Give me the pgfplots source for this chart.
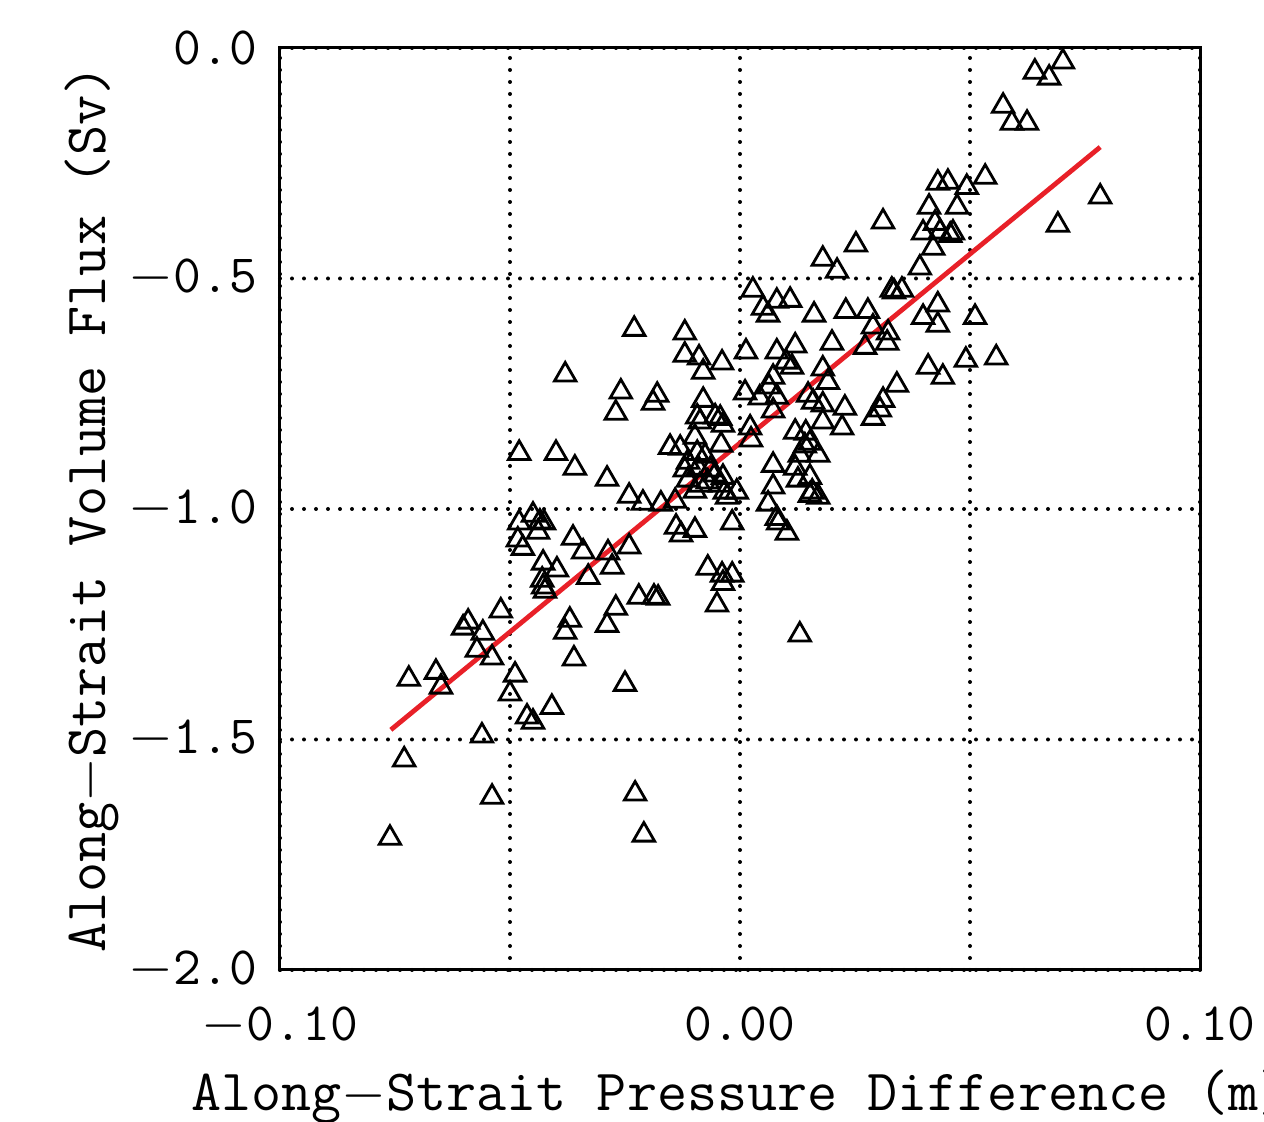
\documentclass[border=0pt]{standalone}
\usepackage{fontspec}
\usepackage{pgfplots}
\pgfplotsset{compat=1.18}
\definecolor{fitred}{RGB}{232,32,40}
\begin{document}
\begin{tikzpicture}
\begin{axis}[
  at={(0,0)}, anchor=south west,
  scale only axis, width=230pt, height=230.5pt,
  xmin=-0.1, xmax=0.1, ymin=-2, ymax=0,
  xtick={-0.1,-0.05,0,0.05,0.1},
  xticklabels={$-$0.10,,0.00,,0.10},
  ytick={-2,-1.5,-1,-0.5,0},
  yticklabels={$-$2.0,$-$1.5,$-$1.0,$-$0.5,0.0},
  major tick length=0pt,
  grid=major,
  major grid style={black, line width=1pt, line cap=round, dash pattern=on 0pt off 3pt},
  axis line style={line width=0.75pt},
  tick label style={font=\fontsize{13.5}{15}\ttfamily, inner sep=1pt},
  xticklabel style={yshift=-8pt},
  yticklabel style={xshift=-4.5pt},
  label style={font=\fontsize{14.6}{16}\ttfamily},
  xlabel={Along{$-$}Strait Pressure Difference (m)},
  ylabel={Along{$-$}Strait Volume Flux (Sv)},
  xlabel style={at={(axis description cs:0.5,-0.152)}, anchor=base},
  ylabel style={at={(axis description cs:-0.19,0.5)}, anchor=base},
]
\addplot[only marks, mark=triangle, mark size=3.1pt, mark options={black, line width=0.7pt}] coordinates {
(-0.0761,-1.714) (-0.0730,-1.544) (-0.0720,-1.369) (-0.0661,-1.354) (-0.0650,-1.386)
(-0.0602,-1.258) (-0.0591,-1.245) (-0.0559,-1.269) (-0.0572,-1.306) (-0.0539,-1.323)
(-0.0520,-1.221) (-0.0489,-1.360) (-0.0500,-1.401) (-0.0409,-1.430) (-0.0463,-1.451)
(-0.0450,-1.462) (-0.0561,-1.492) (-0.0539,-1.625) (-0.0228,-1.618) (-0.0209,-1.707)
(-0.0250,-1.380) (-0.0370,-1.241) (-0.0380,-1.267) (-0.0361,-1.325) (-0.0289,-1.252)
(-0.0270,-1.215) (-0.0220,-1.191) (-0.0187,-1.191) (-0.0178,-1.193)
(-0.0480,-0.879) (-0.0400,-0.879) (-0.0359,-0.911) (-0.0289,-0.935) (-0.0241,-0.972)
(-0.0211,-0.987) (-0.0152,-0.866) (-0.0172,-0.989) (-0.0139,-1.039)
(-0.0480,-1.030) (-0.0450,-1.013) (-0.0435,-1.028) (-0.0426,-1.030) (-0.0439,-1.050)
(-0.0483,-1.067) (-0.0472,-1.085) (-0.0363,-1.063) (-0.0341,-1.093) (-0.0287,-1.095)
(-0.0278,-1.126) (-0.0241,-1.082) (-0.0428,-1.117) (-0.0398,-1.132) (-0.0330,-1.148)
(-0.0430,-1.154) (-0.0428,-1.169) (-0.0424,-1.178)
(-0.0230,-0.610) (-0.0380,-0.709) (-0.0259,-0.746) (-0.0270,-0.792) (-0.0180,-0.753)
(-0.0189,-0.770)
(-0.0120,-0.618) (-0.0120,-0.666) (-0.0089,-0.672) (-0.0080,-0.703) (-0.0039,-0.683)
(0.0013,-0.659) (0.0011,-0.748) (0.0043,-0.759) (-0.0080,-0.764) (-0.0093,-0.800)
(-0.0087,-0.811) (-0.0054,-0.800) (-0.0043,-0.803) (-0.0037,-0.818) (0.0022,-0.824)
(0.0024,-0.850) (-0.0098,-0.844) (-0.0041,-0.861) (-0.0130,-0.868) (-0.0093,-0.879)
(-0.0076,-0.885) (-0.0113,-0.898) (-0.0120,-0.915) (-0.0091,-0.911) (-0.0065,-0.915)
(-0.0054,-0.926) (-0.0113,-0.937) (-0.0087,-0.948) (-0.0070,-0.941) (-0.0043,-0.948)
(-0.0033,-0.963) (-0.0007,-0.963) (-0.0028,-0.974) (-0.0098,-0.961) (-0.0141,-0.983)
(-0.0128,-1.056) (-0.0098,-1.046) (-0.0017,-1.030) (-0.0070,-1.128) (-0.0039,-1.143)
(-0.0017,-1.143) (-0.0037,-1.161) (-0.0050,-1.208) (-0.0037,-0.931)
(0.0028,-0.525) (0.0050,-0.564) (0.0061,-0.579) (0.0080,-0.549) (0.0109,-0.547)
(0.0080,-0.659) (0.0100,-0.681) (0.0113,-0.692) (0.0072,-0.714) (0.0063,-0.735)
(0.0080,-0.757) (0.0072,-0.787) (0.0161,-0.579) (0.0230,-0.571) (0.0278,-0.571)
(0.0289,-0.605) (0.0272,-0.649) (0.0200,-0.640) (0.0120,-0.646) (0.0180,-0.696)
(0.0191,-0.725) (0.0148,-0.753) (0.0159,-0.768) (0.0180,-0.774) (0.0228,-0.781)
(0.0180,-0.811) (0.0222,-0.824) (0.0120,-0.833) (0.0143,-0.835) (0.0152,-0.857)
(0.0141,-0.863) (0.0170,-0.883) (0.0130,-0.883) (0.0072,-0.905) (0.0120,-0.911)
(0.0152,-0.931) (0.0126,-0.937) (0.0072,-0.952) (0.0157,-0.963) (0.0170,-0.974)
(0.0152,-0.970) (0.0061,-0.989) (0.0080,-1.020) (0.0083,-1.030) (0.0102,-1.052)
(0.0130,-1.273) (0.0252,-0.427) (0.0180,-0.458) (0.0211,-0.484)
(0.0533,-0.280) (0.0430,-0.293) (0.0452,-0.291) (0.0493,-0.302) (0.0411,-0.345)
(0.0472,-0.345) (0.0311,-0.377) (0.0424,-0.380) (0.0398,-0.401) (0.0435,-0.399)
(0.0457,-0.406) (0.0463,-0.401) (0.0420,-0.434) (0.0391,-0.477) (0.0330,-0.525)
(0.0335,-0.529) (0.0352,-0.525) (0.0430,-0.557) (0.0398,-0.584) (0.0430,-0.601)
(0.0511,-0.584) (0.0322,-0.618) (0.0320,-0.640) (0.0409,-0.692) (0.0441,-0.714)
(0.0491,-0.677) (0.0557,-0.672) (0.0341,-0.731) (0.0311,-0.764) (0.0304,-0.785)
(0.0289,-0.803) (0.0702,-0.030) (0.0641,-0.052) (0.0672,-0.065) (0.0572,-0.126)
(0.0591,-0.163) (0.0624,-0.163) (0.0783,-0.323) (0.0691,-0.384)
};
\addplot[fitred, line width=1.2pt] coordinates {(-0.0759,-1.479) (0.0783,-0.215)};
\end{axis}
\pgfresetboundingbox
\useasboundingbox (-70pt,-38pt) rectangle (246pt,242.5pt);
\end{tikzpicture}
\end{document}
